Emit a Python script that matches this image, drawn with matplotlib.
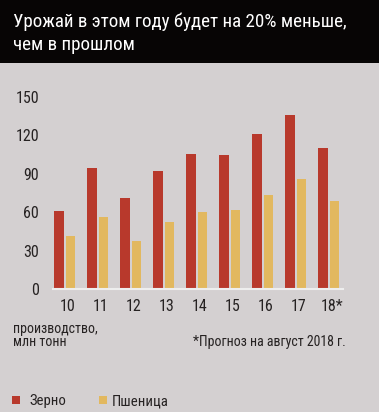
import matplotlib
matplotlib.use("Agg")
import matplotlib.pyplot as plt
from matplotlib.patches import Rectangle
import numpy as np

plt.rcParams['font.family'] = ['Roboto Condensed', 'PT Sans Narrow', 'DejaVu Sans']

years = ["10", "11", "12", "13", "14", "15", "16", "17", "18*"]
grain = [61.0, 94.2, 70.9, 92.4, 105.3, 104.8, 120.7, 135.5, 110.3]
wheat = [41.5, 56.0, 37.9, 52.2, 60.0, 61.8, 73.2, 86.1, 68.5]
yticks = [0, 30, 60, 90, 120, 150]
title_lines = ["Урожай в этом году будет на 20% меньше,", "чем в прошлом"]
unit_lines = ["производство,", "млн тонн"]
note = "*Прогноз на август 2018 г."
legend_labels = ["Зерно", "Пшеница"]

BG = "#d4d0d1"
RED = "#b8392c"
YEL = "#e2b85f"
TXT = "#262222"

W, H = 379, 412
fig = plt.figure(figsize=(W / 100, H / 100), dpi=100, facecolor=BG)

# title bar
fig.patches.append(Rectangle((0, 1 - 63 / H), 1, 63 / H, transform=fig.transFigure,
                             facecolor="#070505", edgecolor="none", zorder=0))
fig.text(13 / W, 1 - 27 / H, title_lines[0], color="white",
         fontsize=13.7, va="baseline", ha="left")
fig.text(13 / W, 1 - 50 / H, title_lines[1], color="white",
         fontsize=13.7, va="baseline", ha="left")

ax = fig.add_axes([53 / W, 1 - 289.3 / H, 290 / W, (289.3 - 96.7) / H])
ax.set_facecolor("none")
x = np.arange(len(years))
bw = 0.288
ax.bar(x - 0.175, grain, width=bw, color=RED, zorder=2)
ax.bar(x + 0.175, wheat, width=bw, color=YEL, zorder=2)
ax.set_xlim(-0.358, 8.43)
ax.set_ylim(0, 150)
ax.set_yticks(yticks)
ax.set_yticklabels([str(v) for v in yticks], fontsize=11.5, color=TXT)
ax.set_xticks(x + 0.1)
ax.set_xticklabels(years, fontsize=11.5, color=TXT)
ax.tick_params(axis="y", length=0, pad=10)
ax.tick_params(axis="x", length=0, pad=7)
for s in ["top", "right", "left"]:
    ax.spines[s].set_visible(False)
ax.spines["bottom"].set_color("#eeeeee")
ax.spines["bottom"].set_linewidth(1.5)
ax.spines["bottom"].set_zorder(3)

fig.text(13 / W, 1 - 333 / H, unit_lines[0], fontsize=10, color=TXT, va="baseline")
fig.text(13 / W, 1 - 346 / H, unit_lines[1], fontsize=10, color=TXT, va="baseline")
fig.text(193 / W, 1 - 346 / H, note, fontsize=10, color=TXT, va="baseline")

# legend
for (lx, col, lab, tx) in [(12, RED, legend_labels[0], 29), (99, YEL, legend_labels[1], 112)]:
    fig.patches.append(Rectangle((lx / W, 1 - 404 / H), 8 / W, 8.5 / H, transform=fig.transFigure,
                                 facecolor=col, edgecolor="none"))
    fig.text(tx / W, 1 - 405 / H, lab, fontsize=10.6, color=TXT, va="baseline")

fig.savefig("out.png", dpi=100, facecolor=BG)
